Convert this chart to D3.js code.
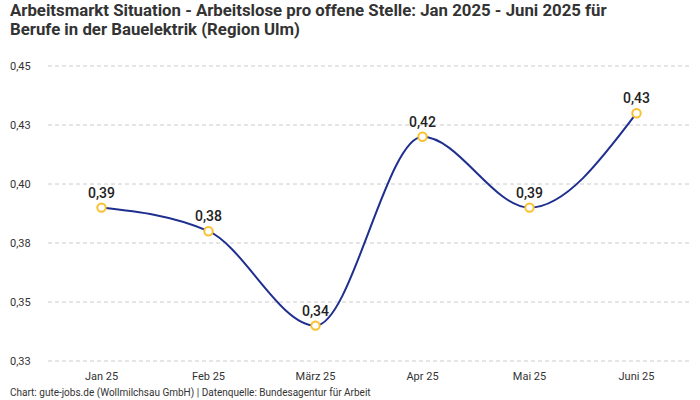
<!DOCTYPE html>
<html>
<head>
<meta charset="utf-8">
<script src="https://cdn.jsdelivr.net/npm/d3@7"></script>
<style>
  body { margin: 0; background: #fff; }
  text { font-family: Roboto, "Noto Sans", sans-serif; }
</style>
</head>
<body>
<div id="chart"></div>
<script>
// data
const months = ["Jan 25", "Feb 25", "März 25", "Apr 25", "Mai 25", "Juni 25"];
const values = [0.39, 0.38, 0.34, 0.42, 0.39, 0.43];
const yTicks = [0.325, 0.35, 0.375, 0.40, 0.425, 0.45];

const W = 700, H = 400;
const margin = {top: 66, right: 10, bottom: 39, left: 48};

const svg = d3.select("#chart").append("svg")
    .attr("width", W).attr("height", H);

// title
svg.append("text")
    .attr("x", 10).attr("y", 16)
    .style("font-size", "16.8px").style("font-weight", "bold").attr("fill", "#333")
    .text("Arbeitsmarkt Situation - Arbeitslose pro offene Stelle: Jan 2025 - Juni 2025 für");
svg.append("text")
    .attr("x", 10).attr("y", 35)
    .style("font-size", "16.8px").style("font-weight", "bold").attr("fill", "#333")
    .text("Berufe in der Bauelektrik (Region Ulm)");

const x = d3.scalePoint()
    .domain(months)
    .range([margin.left, W - margin.right])
    .padding(0.5);

const y = d3.scaleLinear()
    .domain([0.325, 0.45])
    .range([H - margin.bottom, margin.top]);

// round half up, German decimal comma
const fmt = v => (Math.round(v * 100 + 1e-6) / 100).toFixed(2).replace(".", ",");

// grid + y labels
const grid = svg.append("g");
grid.selectAll("line")
  .data(yTicks)
  .join("line")
    .attr("x1", margin.left).attr("x2", W - margin.right)
    .attr("y1", d => y(d)).attr("y2", d => y(d))
    .attr("stroke", "#ccc").attr("stroke-dasharray", "4,3");
grid.selectAll("text")
  .data(yTicks)
  .join("text")
    .attr("x", 10).attr("y", d => y(d)).attr("dy", "0.35em")
    .style("font-size", "11px").attr("fill", "#333")
    .text(fmt);

// x labels
svg.append("g").selectAll("text")
  .data(months)
  .join("text")
    .attr("x", d => x(d)).attr("y", H - margin.bottom + 19)
    .attr("text-anchor", "middle")
    .style("font-size", "11px").attr("fill", "#333")
    .text(d => d);

// line
const line = d3.line()
    .x((d, i) => x(months[i]))
    .y(d => y(d))
    .curve(d3.curveMonotoneX);

svg.append("path")
    .datum(values)
    .attr("fill", "none")
    .attr("stroke", "#1f2f8f")
    .attr("stroke-width", 2)
    .attr("d", line);

// points
svg.append("g").selectAll("circle")
  .data(values)
  .join("circle")
    .attr("cx", (d, i) => x(months[i]))
    .attr("cy", d => y(d))
    .attr("r", 4.2)
    .attr("fill", "#fff")
    .attr("stroke", "#fbc02d")
    .attr("stroke-width", 2);

// value labels
svg.append("g").selectAll("text")
  .data(values)
  .join("text")
    .attr("x", (d, i) => x(months[i]))
    .attr("y", d => y(d) - 10)
    .attr("text-anchor", "middle")
    .style("font-size", "14px").style("font-weight", "500").attr("fill", "#222")
    .text(fmt);

// footer
svg.append("text")
    .attr("x", 10).attr("y", H - 4)
    .style("font-size", "10px").attr("fill", "#333")
    .text("Chart: gute-jobs.de (Wollmilchsau GmbH) | Datenquelle: Bundesagentur für Arbeit");
</script>
</body>
</html>
